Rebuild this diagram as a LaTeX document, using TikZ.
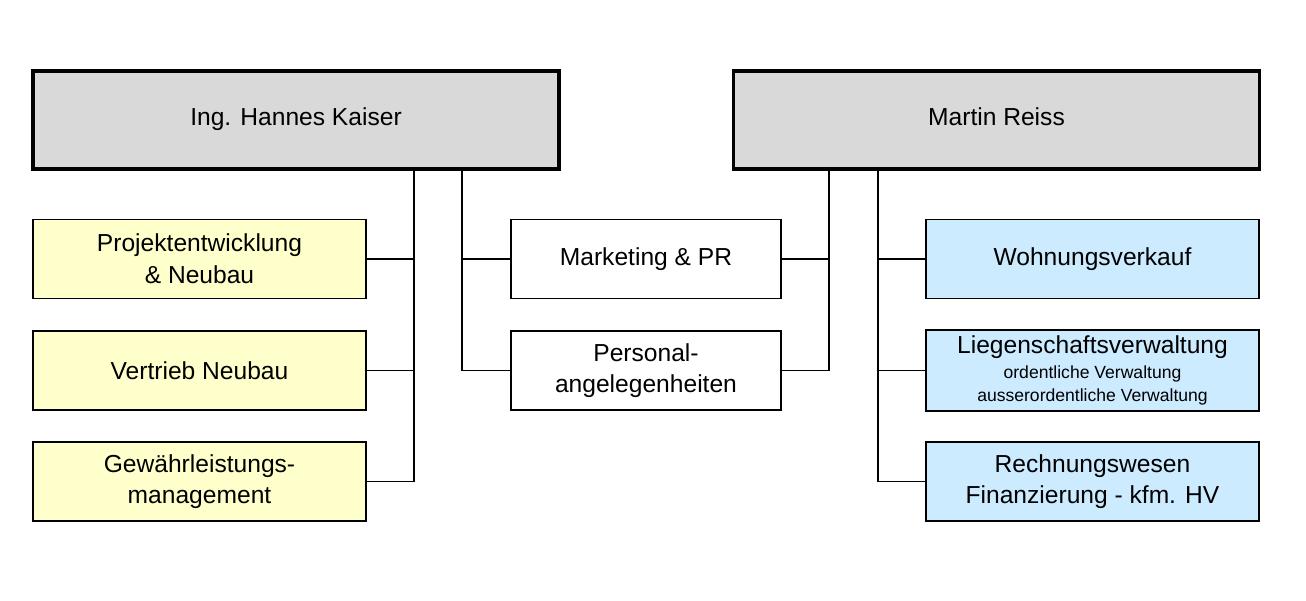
\documentclass[tikz,border=0pt]{standalone}
\usepackage{fontspec}
\setmainfont{Liberation Sans}
\definecolor{headGray}{rgb}{0.85,0.85,0.85}
\definecolor{yellowBox}{rgb}{1,1,0.8}
\definecolor{blueBox}{rgb}{0.8,0.92,1}
\usetikzlibrary{positioning}
\tikzset{
  head/.style={draw, line width=1.8pt, fill=headGray, minimum width=10.52cm, minimum height=1.96cm, text height=1.6ex, text depth=0.4ex, font=\fontsize{14}{18}\selectfont},
  unit/.style={draw, line width=0.8pt, minimum width=6.66cm, minimum height=1.58cm, align=center, font=\fontsize{14}{18}\selectfont},
  mid/.style={unit, fill=white, minimum width=5.4cm},
  left/.style={unit, fill=yellowBox},
  right/.style={unit, fill=blueBox},
  bus/.style={line width=0.8pt}
}
\begin{document}
\begin{tikzpicture}[x=0.02cm,y=-0.02cm]
  \useasboundingbox (0,0) rectangle (1306,601);
  \node[head] (kaiser) at (296,120) {Ing. Hannes Kaiser};
  \node[head] (reiss) at (996.5,120) {Martin Reiss};

  \node[left] (proj) at (199.5,259) {Projektentwicklung\\\& Neubau};
  \node[left] (vert) at (199.5,370.5) {Vertrieb Neubau};
  \node[left] (gew) at (199.5,481.5) {Gewährleistungs-\\management};

  \node[mid] (mark) at (646,259) {Marketing \& PR};
  \node[mid] (pers) at (646,370.5) {Personal-\\angelegenheiten};

  \node[right] (wohn) at (1092.5,259) {Wohnungsverkauf};
  \node[right] (lieg) at (1092.5,370.5) {Liegenschaftsverwaltung\\[-4pt]
    {\fontsize{10}{12}\selectfont ordentliche Verwaltung}\\[-5pt]
    {\fontsize{10}{12}\selectfont ausserordentliche Verwaltung}};
  \node[right] (rech) at (1092.5,481.5) {Rechnungswesen\\Finanzierung - kfm. HV};

  % bus lines
  \coordinate (kA) at (414,169);
  \coordinate (kB) at (462,169);
  \coordinate (rA) at (829,169);
  \coordinate (rB) at (878,169);
  \draw[bus] (kA) |- (gew.east);
  \draw[bus] (proj.east) -| (kA);
  \draw[bus] (vert.east) -| (kA);
  \draw[bus] (kB) |- (pers.west);
  \draw[bus] (mark.west) -| (kB);
  \draw[bus] (rA) |- (pers.east);
  \draw[bus] (mark.east) -| (rA);
  \draw[bus] (rB) |- (rech.west);
  \draw[bus] (wohn.west) -| (rB);
  \draw[bus] (lieg.west) -| (rB);
\end{tikzpicture}
\end{document}
